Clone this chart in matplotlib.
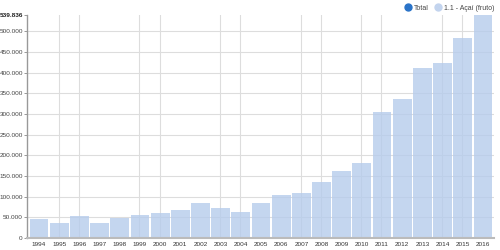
import matplotlib
matplotlib.use("Agg")
import matplotlib.pyplot as plt
from matplotlib.lines import Line2D

years = [str(y) for y in range(1994, 2017)]
values = [46000, 35700, 52700, 35700, 48500, 55000, 60000, 67000, 84000, 72000,
          62000, 84000, 103600, 107800, 135000, 162000, 180600, 305800, 337000,
          412000, 424800, 483000, 539836]
grid_years = ["1995", "1996", "1999", "2000", "2003", "2004", "2007", "2008",
              "2010", "2011", "2014", "2015"]
y_ticks = [0, 50000, 100000, 150000, 200000, 250000, 300000, 350000, 400000,
           450000, 500000, 539836]
series_names = ["Total", "1.1 - Açaí (fruto)"]

plt.rcParams['font.family'] = ['Liberation Sans', 'DejaVu Sans']

fig = plt.figure(figsize=(5, 2.5), dpi=100)
ax = fig.add_axes([27/500, 12/250, (494-27)/500, (238-15)/250])

x = list(range(len(years)))
ymax = max(values)

for yt in y_ticks[1:-1]:
    ax.axhline(yt, color='#dddddd', lw=0.8, zorder=1)
for gy in grid_years:
    ax.axvline(years.index(gy) - 0.03, color='#dddddd', lw=0.8, zorder=1)

ax.bar(x, values, width=0.93, color='#b6ccec', alpha=0.8, zorder=2, linewidth=0)

ax.set_xlim(-0.6, len(years) - 0.45)
ax.set_ylim(0, ymax)
ax.set_xticks(x)
ax.set_xticklabels(years, fontsize=4.6, color='#333333')
ax.set_yticks(y_ticks)
labels = ['0'] + [f"{v:,}".replace(",", ".") for v in y_ticks[1:]]
ax.set_yticklabels(labels, fontsize=4.6, color='#444444')
ax.get_yticklabels()[-1].set_fontweight('bold')
ax.get_yticklabels()[-1].set_color('#222222')
ax.tick_params(axis='x', length=0, pad=3)
ax.tick_params(axis='y', length=2, width=0.6, color='#888888', pad=1)

for s in ['top', 'right']:
    ax.spines[s].set_visible(False)
ax.spines['left'].set_color('#999999')
ax.spines['left'].set_linewidth(1.0)
ax.spines['bottom'].set_color('#bbbbbb')
ax.spines['bottom'].set_linewidth(1.5)

handles = [
    Line2D([], [], marker='o', linestyle='none', markersize=5,
           markerfacecolor='#2a73c8', markeredgecolor='#2a73c8'),
    Line2D([], [], marker='o', linestyle='none', markersize=5,
           markerfacecolor='#c3d4ee', markeredgecolor='#c3d4ee'),
]
fig.legend(handles, series_names, loc='upper right', bbox_to_anchor=(0.998, 1.0),
           ncol=2, frameon=False, fontsize=5.0, handletextpad=0.3,
           columnspacing=0.9, handlelength=1.0, labelcolor='#444444',
           borderaxespad=0.3)

fig.savefig("out.png", dpi=100)
